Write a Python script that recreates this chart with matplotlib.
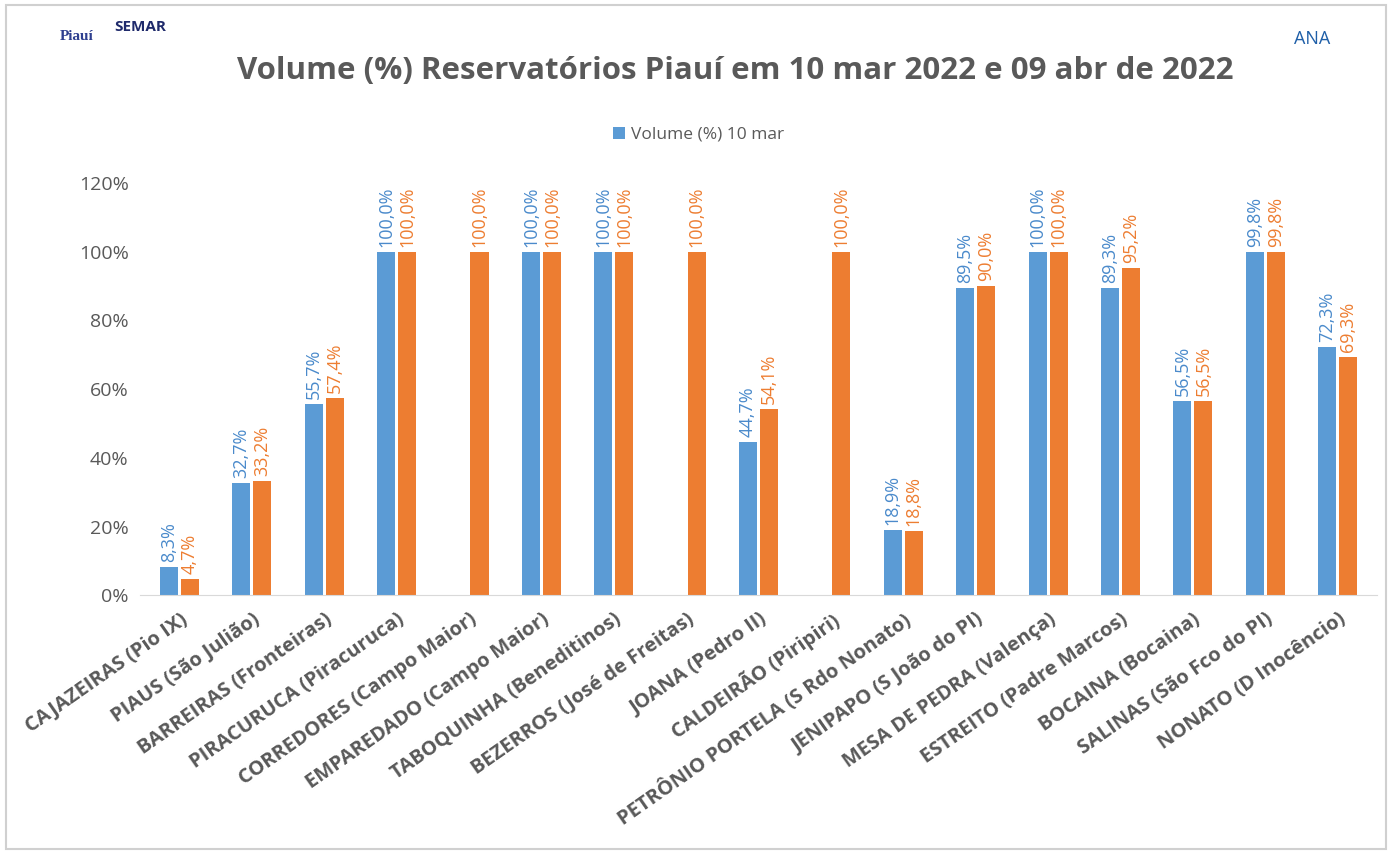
import matplotlib.pyplot as plt
import numpy as np
from matplotlib.patches import Rectangle

# data
reservatorios = ['CAJAZEIRAS (Pio IX)', 'PIAUS (São Julião)', 'BARREIRAS (Fronteiras)',
                 'PIRACURUCA (Piracuruca)', 'CORREDORES (Campo Maior)', 'EMPAREDADO (Campo Maior)',
                 'TABOQUINHA (Beneditinos)', 'BEZERROS (José de Freitas)', 'JOANA (Pedro II)',
                 'CALDEIRÃO (Piripiri)', 'PETRÔNIO PORTELA (S Rdo Nonato)', 'JENIPAPO (S João do PI)',
                 'MESA DE PEDRA (Valença)', 'ESTREITO (Padre Marcos)', 'BOCAINA (Bocaina)',
                 'SALINAS (São Fco do PI)', 'NONATO (D Inocêncio)']
vol_10mar = [8.3, 32.7, 55.7, 100.0, np.nan, 100.0, 100.0, np.nan, 44.7, np.nan,
             18.9, 89.5, 100.0, 89.3, 56.5, 99.8, 72.3]
vol_09abr = [4.7, 33.2, 57.4, 100.0, 100.0, 100.0, 100.0, 100.0, 54.1, 100.0,
             18.8, 90.0, 100.0, 95.2, 56.5, 99.8, 69.3]
yticks = [0, 20, 40, 60, 80, 100, 120]

blue = '#5B9BD5'
orange = '#ED7D31'
gray = '#595959'

plt.rcParams['font.family'] = ['Open Sans', 'DejaVu Sans']

fig = plt.figure(figsize=(13.97, 8.59), dpi=100)
ax = fig.add_axes([0.1, 0.307, 0.886, 0.48])

x = np.arange(len(reservatorios))
w = 0.25
ax.bar(x - w / 2 - 0.02, vol_10mar, w, color=blue, label='Volume (%) 10 mar')
ax.bar(x + w / 2 + 0.02, vol_09abr, w, color=orange, label='_nolegend_')

# value labels
for xi, v in zip(x, vol_10mar):
    if not np.isnan(v):
        ax.text(xi - w / 2 - 0.02, v + 1.5, f'{v:.1f}%'.replace('.', ','), rotation=90,
                ha='center', va='bottom', color='#4A8ACB', fontsize=13)
for xi, v in zip(x, vol_09abr):
    if not np.isnan(v):
        ax.text(xi + w / 2 + 0.02, v + 1.5, f'{v:.1f}%'.replace('.', ','), rotation=90,
                ha='center', va='bottom', color=orange, fontsize=13)

ax.set_ylim(0, 120)
ax.set_xlim(-0.55, len(reservatorios) - 0.45)
ax.set_yticks(yticks)
ax.set_yticklabels([f'{t}%' for t in yticks], color=gray, fontsize=14)
ax.set_xticks(x)
ax.set_xticklabels(reservatorios, rotation=35, ha='right', rotation_mode='anchor',
                   color=gray, fontsize=14.5, fontweight='bold')
ax.tick_params(axis='both', length=0, pad=8)
ax.tick_params(axis='x', pad=10)
for s in ['top', 'right', 'left']:
    ax.spines[s].set_visible(False)
ax.spines['bottom'].set_color('#D9D9D9')

fig.legend(loc='center', bbox_to_anchor=(0.5, 0.843), frameon=False, fontsize=12.5,
           labelcolor=gray, handlelength=0.7, handleheight=0.7, handletextpad=0.3)

fig.text(0.526, 0.917, 'Volume (%) Reservatórios Piauí em 10 mar 2022 e 09 abr de 2022',
         ha='center', va='center', fontsize=22.5, fontweight='bold', color=gray)

# logo placeholders as text
fig.text(0.043, 0.958, 'Piauí', ha='left', va='center', fontsize=11, fontweight='bold',
         color='#2E3F8F', family='Liberation Serif')
fig.text(0.082, 0.968, 'SEMAR', ha='left', va='center', fontsize=11, fontweight='bold',
         color='#1F2A6B')
fig.text(0.926, 0.955, 'ANA', ha='left', va='center', fontsize=13, color='#1F5FA8')

# outer frame
fig.patches.append(Rectangle((0.004, 0.012), 0.988, 0.982, transform=fig.transFigure,
                             fill=False, edgecolor='#D0D0D0', linewidth=1.5))

fig.savefig('out.png', dpi=100, facecolor='white')
